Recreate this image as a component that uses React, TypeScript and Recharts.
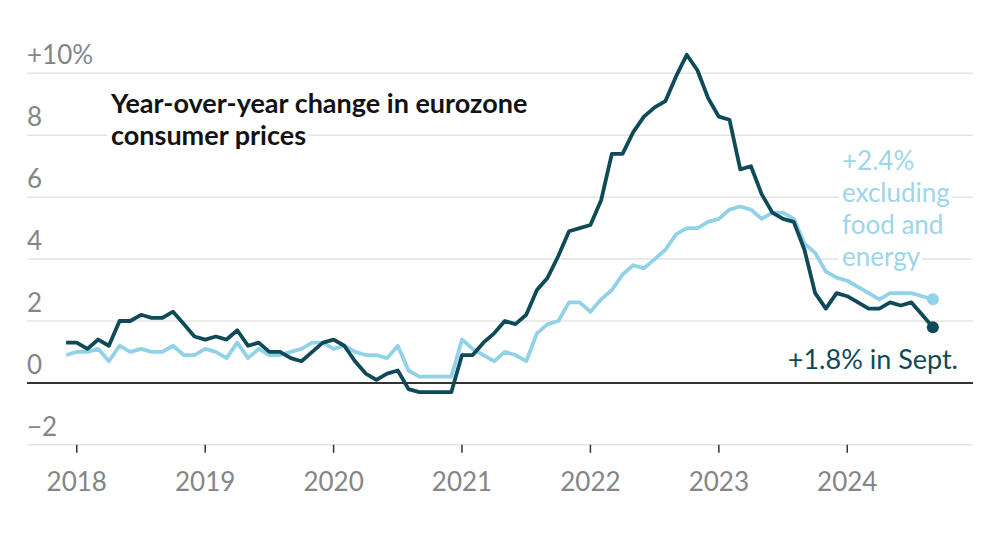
import { LineChart, Line, XAxis, YAxis, ReferenceLine } from "recharts";

// monthly, Dec 2017 .. Sep 2024
const headline = [
  1.3,
  1.3, 1.1, 1.4, 1.2, 2.0, 2.0, 2.2, 2.1, 2.1, 2.3, 1.9, 1.5,
  1.4, 1.5, 1.4, 1.7, 1.2, 1.3, 1.0, 1.0, 0.8, 0.7, 1.0, 1.3,
  1.4, 1.2, 0.7, 0.3, 0.1, 0.3, 0.4, -0.2, -0.3, -0.3, -0.3, -0.3,
  0.9, 0.9, 1.3, 1.6, 2.0, 1.9, 2.2, 3.0, 3.4, 4.1, 4.9, 5.0,
  5.1, 5.9, 7.4, 7.4, 8.1, 8.6, 8.9, 9.1, 9.9, 10.6, 10.1, 9.2,
  8.6, 8.5, 6.9, 7.0, 6.1, 5.5, 5.3, 5.2, 4.3, 2.9, 2.4, 2.9,
  2.8, 2.6, 2.4, 2.4, 2.6, 2.5, 2.6, 2.2, 1.8,
];

const core = [
  0.9,
  1.0, 1.0, 1.1, 0.7, 1.2, 1.0, 1.1, 1.0, 1.0, 1.2, 0.9, 0.9,
  1.1, 1.0, 0.8, 1.3, 0.8, 1.1, 0.9, 0.9, 1.0, 1.1, 1.3, 1.3,
  1.1, 1.2, 1.0, 0.9, 0.9, 0.8, 1.2, 0.4, 0.2, 0.2, 0.2, 0.2,
  1.4, 1.1, 0.9, 0.7, 1.0, 0.9, 0.7, 1.6, 1.9, 2.0, 2.6, 2.6,
  2.3, 2.7, 3.0, 3.5, 3.8, 3.7, 4.0, 4.3, 4.8, 5.0, 5.0, 5.2,
  5.3, 5.6, 5.7, 5.6, 5.3, 5.5, 5.5, 5.3, 4.5, 4.2, 3.6, 3.4,
  3.3, 3.1, 2.9, 2.7, 2.9, 2.9, 2.9, 2.8, 2.7,
];

// month index of each January (index 0 = Dec 2017)
const yearTicks = [1, 13, 25, 37, 49, 61, 73];
const yearLabels = ["2018", "2019", "2020", "2021", "2022", "2023", "2024"];
const yTicks = [-2, 0, 2, 4, 6, 8, 10];

const data = headline.map((h, i) => ({ m: i, headline: h, core: core[i] }));
const last = data.length - 1;

const DARK = "#0f4a58";
const LIGHT = "#92d2e9";
const GREY = "#858585";
const FONT = "Lato, sans-serif";

const fmtY = (v: number) => (v === 10 ? "+10%" : v < 0 ? "\u2212" + Math.abs(v) : String(v));

const YTick = (props: any) => (
  <text x={27} y={props.y - 9} fill={GREY} fontSize={26} fontFamily={FONT}>
    {fmtY(props.payload.value)}
  </text>
);

const XTick = (props: any) => {
  const idx = yearTicks.indexOf(props.payload.value);
  return (
    <text x={props.x} y={props.y + 36} textAnchor="middle" fill={GREY} fontSize={26} fontFamily={FONT}>
      {yearLabels[idx]}
    </text>
  );
};

const endDot = (color: string) => (props: any) =>
  props.index === last ? (
    <circle key={`end-${color}`} cx={props.cx} cy={props.cy} r={6} fill={color} />
  ) : (
    <g key={`d-${props.index}`} />
  );

const halo = { stroke: "#fff", strokeWidth: 9, paintOrder: "stroke", strokeLinejoin: "round" } as any;

export default function App() {
  return (
    <div style={{ position: "absolute", left: 0, top: 0, width: 1000, height: 536, background: "#fff" }}>
      <LineChart width={1000} height={536} data={data} margin={{ top: 42.4, right: 27, bottom: 41.2, left: 26 }}>
        <XAxis
          dataKey="m"
          type="number"
          domain={[-3.65, 84.75]}
          ticks={yearTicks}
          height={50}
          axisLine={false}
          tickSize={8}
          tickLine={{ stroke: "#333", strokeWidth: 1.5 }}
          tick={<XTick />}
          interval={0}
        />
        <YAxis
          type="number"
          domain={[-2, 11]}
          ticks={yTicks}
          width={1}
          axisLine={false}
          tickLine={false}
          tick={<YTick />}
          interval={0}
        />
        {yTicks
          .filter((v) => v !== 0)
          .map((v) => (
            <ReferenceLine key={`g${v}`} y={v} stroke="#e3e3e3" strokeWidth={1.5} />
          ))}
        <ReferenceLine y={0} stroke="#333" strokeWidth={2} />
        <Line
          dataKey="core"
          stroke={LIGHT}
          strokeWidth={3.8}
          strokeLinejoin="round"
          type="linear"
          dot={endDot(LIGHT)}
          activeDot={false}
          isAnimationActive={false}
        />
        <Line
          dataKey="headline"
          stroke={DARK}
          strokeWidth={3.8}
          strokeLinejoin="round"
          type="linear"
          dot={endDot(DARK)}
          activeDot={false}
          isAnimationActive={false}
        />
      </LineChart>
      <svg width={1000} height={536} style={{ position: "absolute", left: 0, top: 0, pointerEvents: "none" }}>
        <g fontFamily={FONT} fontWeight={700} fontSize={27} fill="#121212" {...halo}>
          <text x={111} y={113}>Year-over-year change in eurozone</text>
          <text x={111} y={145}>consumer prices</text>
        </g>
        <g fontFamily={FONT} fontSize={26} fill="#9dd5ea" {...halo}>
          <text x={842} y={170}>+2.4%</text>
          <text x={842} y={202}>excluding</text>
          <text x={842} y={234}>food and</text>
          <text x={842} y={266}>energy</text>
        </g>
        <text x={958} y={369} textAnchor="end" fontFamily={FONT} fontSize={27} fill={DARK}>
          +1.8% in Sept.
        </text>
      </svg>
    </div>
  );
}
